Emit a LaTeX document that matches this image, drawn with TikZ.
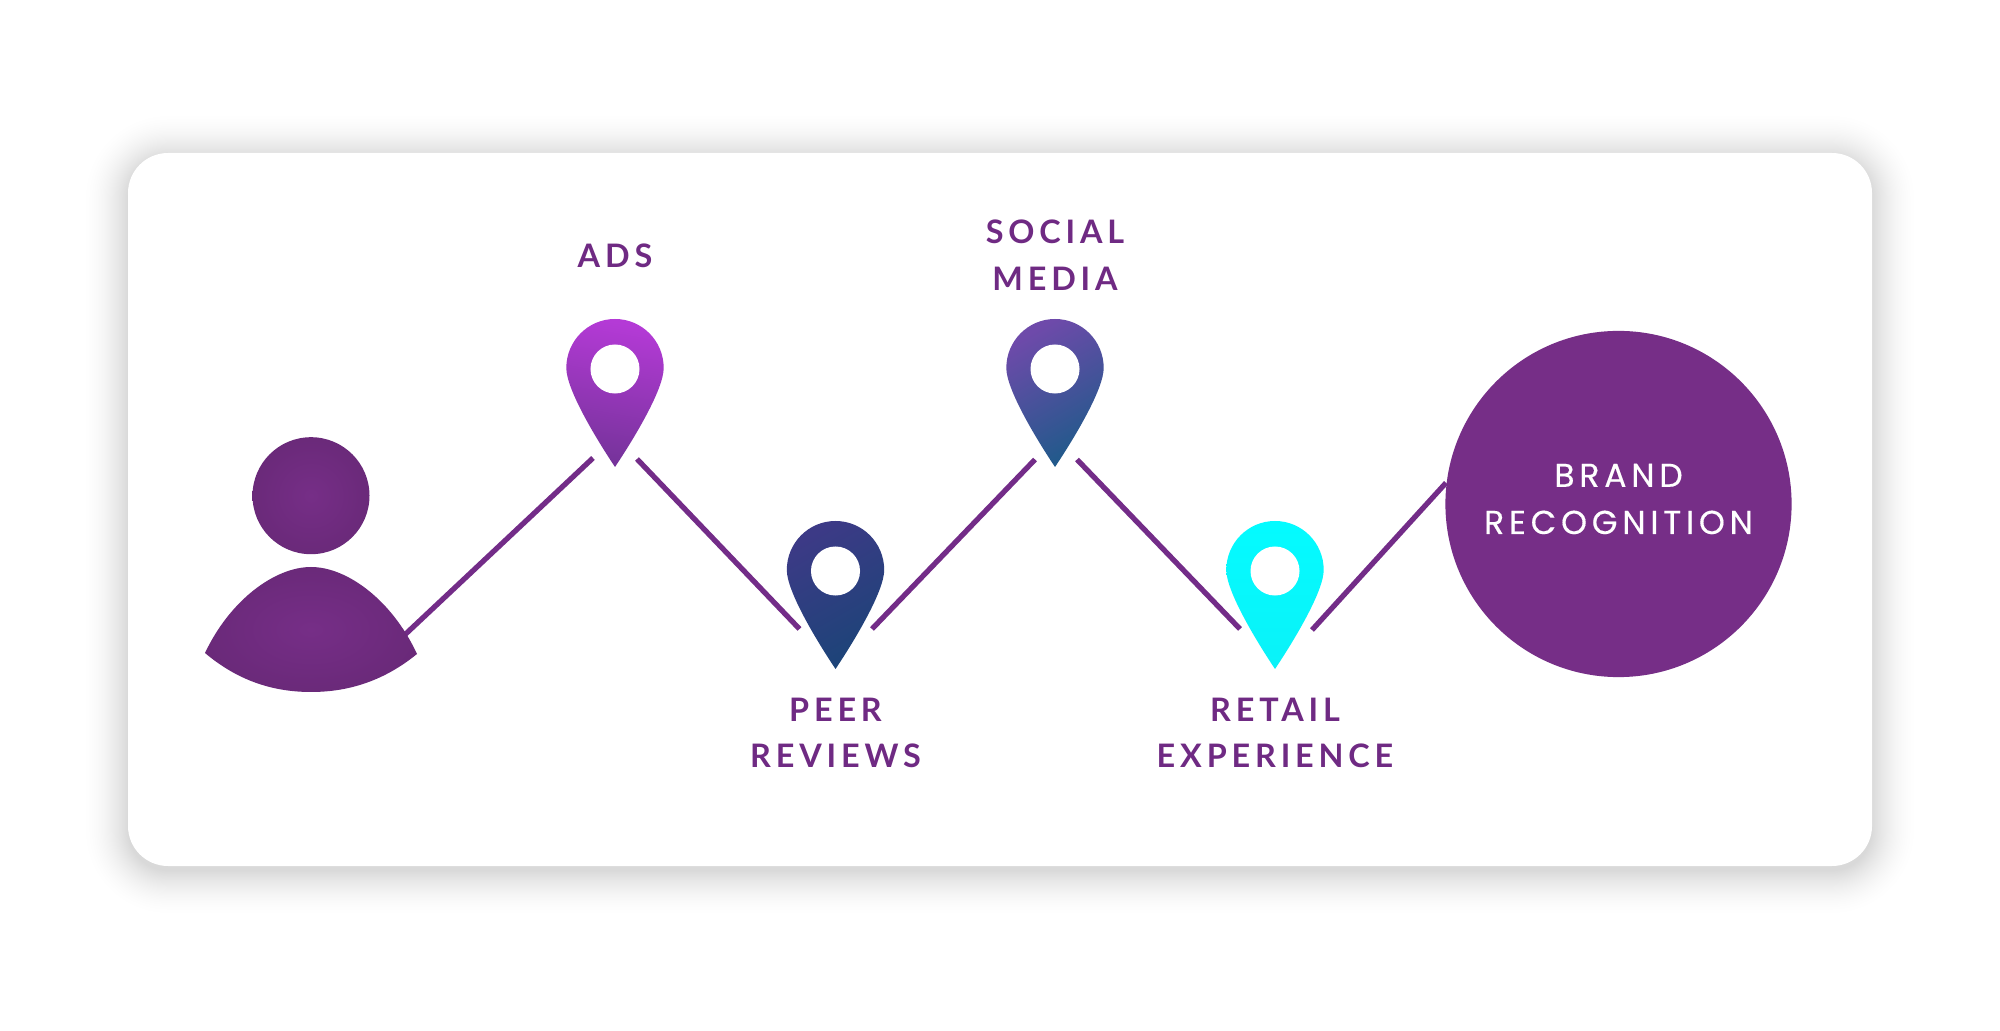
\documentclass[tikz,border=0pt]{standalone}
\usepackage{fontspec}
\usepackage{tikz}
\usetikzlibrary{calc,shapes.geometric}
\newfontfamily\pinfont[LetterSpace=15]{Lato}
\newfontfamily\brandfont[LetterSpace=14.5,FakeBold=0.35]{Poppins}
\definecolor{brandpurple}{HTML}{762E87}
\definecolor{labelpurple}{HTML}{6F2A83}
\definecolor{linepurple}{HTML}{732C88}
\definecolor{adstop}{HTML}{B43AD6}
\definecolor{adsbot}{HTML}{75339A}
\definecolor{peertop}{HTML}{3C3A86}
\definecolor{peerbot}{HTML}{1C4478}
\definecolor{socialtop}{HTML}{6E4AAA}
\definecolor{socialbot}{HTML}{1F5A8A}
\definecolor{retailtop}{HTML}{04FBFF}
\definecolor{retailbot}{HTML}{0AF2F8}
\tikzset{
	pinlabel/.style={text=labelpurple, align=center, inner sep=0pt, font=\pinfont\bfseries\fontsize{9.2}{13.2}\selectfont},
	pinhole/.style={circle, fill=white, inner sep=0pt, minimum size=0.49cm},
	brandnode/.style={circle, fill=brandpurple, inner sep=0pt, minimum size=3.46cm},
	brandlabel/.style={text=white, align=center, inner sep=0pt, font=\brandfont\fontsize{9.4}{13.4}\selectfont},
	trail/.style={line width=1.5pt, color=linepurple},
	personfill/.style={inner color=brandpurple, outer color=brandpurple!90!black}
}
\def\mappin[#1](#2,#3)#4{\shade[#1] (#2, #3+148) .. controls (#2-20, #3+118) and (#2-48.7, #3+70) .. (#2-48.7, #3+49) .. controls (#2-48.7, #3+22) and (#2-27, #3) .. (#2, #3) .. controls (#2+27, #3) and (#2+48.7, #3+22) .. (#2+48.7, #3+49) .. controls (#2+48.7, #3+70) and (#2+20, #3+118) .. (#2, #3+148) -- cycle; \node[pinhole] (#4) at (#2, #3+50) {};}

\begin{document}
\begin{tikzpicture}[x=0.01cm, y=-0.01cm]
		%%%%% START %%%%%
		
		\useasboundingbox (0, 0) rectangle (2000, 1031);
		\fill[white] (0, 0) rectangle (2000, 1031);
		
		% card
		\foreach \layer in {1,...,38} {
			\pgfmathsetmacro{\grow}{50*(1-sqrt(\layer/38))}
			\fill[black, opacity=0.004, rounded corners=0.4cm+\grow*0.01cm] (128-\grow, 158-\grow) rectangle (1872+\grow, 871+\grow);
		}
		\fill[white, rounded corners=0.4cm] (128, 153) rectangle (1872, 866);
		
		% trail ends
		\coordinate (personout) at (395, 644);
		\coordinate (adsin) at (593, 458);
		\coordinate (adsout) at (637, 459);
		\coordinate (peerin) at (799.5, 629);
		\coordinate (peerout) at (872, 629);
		\coordinate (socialin) at (1035, 459.5);
		\coordinate (socialout) at (1077, 459.5);
		\coordinate (retailin) at (1240, 629);
		\coordinate (retailout) at (1312, 630);
		
		\node[brandnode] (brand) at (1618.5, 504) {};
		\node[brandlabel] (brandtext) at (1618.5, 499) {BRAND\\RECOGNITION};
		
		\draw[trail] (personout) -- (adsin);
		\draw[trail] (adsout) -- (peerin);
		\draw[trail] (peerout) -- (socialin);
		\draw[trail] (socialout) -- (retailin);
		\draw[trail] (retailout) -- (brand.173);
		
		% person
		\shade[personfill] (311, 495.7) circle (58.5);
		\shade[personfill] (205, 653) .. controls (230, 600) and (275, 567) .. (311, 567) .. controls (347, 567) and (392, 600) .. (417, 654) .. controls (385, 680) and (350, 692) .. (311, 692) .. controls (272, 692) and (237, 680) .. (205, 653) -- cycle;
		
		% pins
		\mappin[top color=adstop, bottom color=adsbot, shading angle=-10](615,319){ads}
		\mappin[top color=peertop, bottom color=peerbot, shading angle=30](835.5,521){peer}
		\mappin[top color=socialtop, bottom color=socialbot, shading angle=30](1055,319){social}
		\mappin[top color=retailtop, bottom color=retailbot](1275,521){retail}
		
		% labels
		\node[pinlabel] (adslabel) at (615, 256) {ADS};
		\node[pinlabel] (sociallabel) at (1055, 255) {SOCIAL\\MEDIA};
		\node[pinlabel] (peerlabel) at (835.5, 733) {PEER\\REVIEWS};
		\node[pinlabel] (retaillabel) at (1275, 733) {RETAIL\\EXPERIENCE};
		
		%%%%% END %%%%%
	\end{tikzpicture}
\end{document}
